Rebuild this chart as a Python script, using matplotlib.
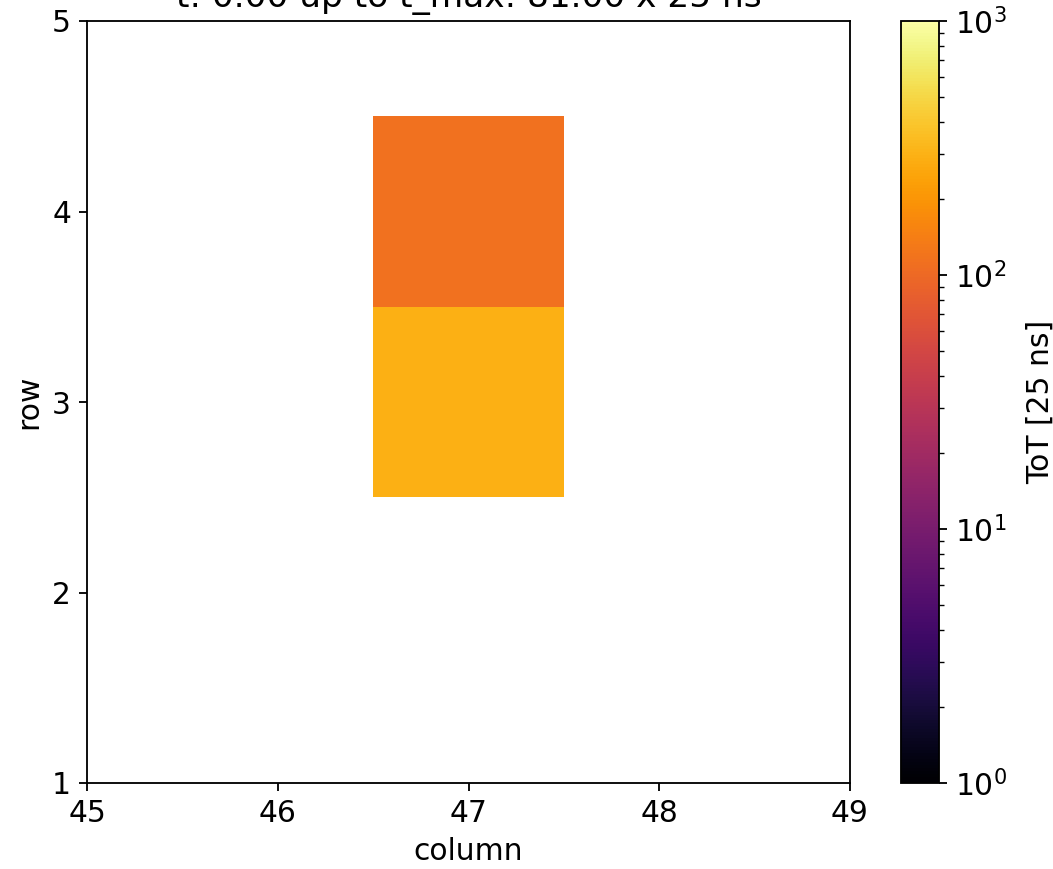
import matplotlib
matplotlib.use("Agg")
import matplotlib.pyplot as plt
import numpy as np
from matplotlib.colors import LogNorm

# hit pixels of the frame
hit_cols = [47, 47]
hit_rows = [3, 4]
hit_tot = [290, 115]   # ToT in units of 25 ns

col_range = (45, 49)
row_range = (1, 5)
title = "t: 0.00 up to t_max: 81.00 x 25 ns"

DPI = 165
plt.rcParams["font.size"] = 13

cols = np.arange(col_range[0], col_range[1] + 1)
rows = np.arange(row_range[0], row_range[1] + 1)
grid = np.full((len(rows), len(cols)), np.nan)
for c, r, v in zip(hit_cols, hit_rows, hit_tot):
    grid[r - row_range[0], c - col_range[0]] = v
grid = np.ma.masked_invalid(grid)

fig = plt.figure(figsize=(1053 / DPI, 869 / DPI), dpi=DPI)
ax = fig.add_axes([87 / 1053, 86 / 869, 763 / 1053, 762 / 869])
cax = fig.add_axes([901 / 1053, 86 / 869, 38 / 1053, 762 / 869])

mesh = ax.pcolormesh(np.append(cols, cols[-1] + 1) - 0.5,
                     np.append(rows, rows[-1] + 1) - 0.5,
                     grid, cmap="inferno", norm=LogNorm(vmin=1, vmax=1000))
ax.set_xlim(*col_range)
ax.set_ylim(*row_range)
ax.set_xticks(cols)
ax.set_yticks(rows)
ax.set_xlabel("column")
ax.set_ylabel("row")
# the title sits partly above the figure edge, as in the original frame
ax.set_title(title, fontsize=15)

cb = fig.colorbar(mesh, cax=cax)
cb.set_label("ToT [25 ns]", labelpad=8)

fig.savefig("out.png", dpi=DPI)
